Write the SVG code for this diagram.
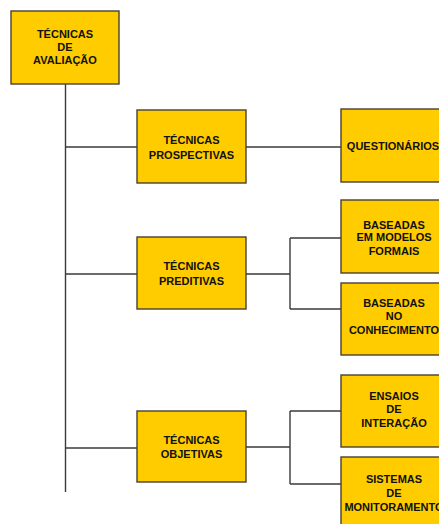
<svg xmlns="http://www.w3.org/2000/svg" width="439" height="524" viewBox="0 0 439 524">
<style>
.box{fill:#FFCC00;stroke:#4a4030;stroke-width:1.4}
.t{font-family:"Liberation Sans",Arial,sans-serif;font-weight:bold;font-size:11px;fill:#111;text-anchor:middle}
.c{fill:none;stroke:#3a3a3a;stroke-width:1.4}
</style>
<rect width="439" height="524" fill="#fff"/>
<g id="connectors">
<path class="c" d="M65.5 84V492"/>
<path class="c" d="M65.5 147H137"/>
<path class="c" d="M65.5 274H137"/>
<path class="c" d="M65.5 448H137"/>
<path class="c" d="M246 147H341"/>
<path class="c" d="M246 274H290M290 238V309M290 238H341M290 309H341"/>
<path class="c" d="M246 447H290M290 411V484M290 411H341M290 484H341"/>
</g>
<g id="root">
<rect class="box" x="11" y="11" width="108" height="73"/>
<text class="t" x="65" y="37.5">TÉCNICAS</text>
<text class="t" x="65" y="50.5">DE</text>
<text class="t" x="65" y="63.5">AVALIAÇÃO</text>
</g>
<g id="prospectivas">
<rect class="box" x="137" y="110" width="109" height="73"/>
<text class="t" x="191.5" y="143.5">TÉCNICAS</text>
<text class="t" x="191.5" y="158.5">PROSPECTIVAS</text>
</g>
<g id="preditivas">
<rect class="box" x="137" y="237" width="109" height="72"/>
<text class="t" x="191.5" y="270">TÉCNICAS</text>
<text class="t" x="191.5" y="285">PREDITIVAS</text>
</g>
<g id="objetivas">
<rect class="box" x="137" y="411" width="109" height="71"/>
<text class="t" x="191.5" y="443.5">TÉCNICAS</text>
<text class="t" x="191.5" y="457.5">OBJETIVAS</text>
</g>
<g id="questionarios">
<rect class="box" x="341" y="109" width="108" height="73"/>
<text class="t" x="393" y="150">QUESTIONÁRIOS</text>
</g>
<g id="modelos">
<rect class="box" x="341" y="200" width="108" height="73"/>
<text class="t" x="394" y="228.5">BASEADAS</text>
<text class="t" x="394" y="241">EM MODELOS</text>
<text class="t" x="394" y="254.5">FORMAIS</text>
</g>
<g id="conhecimento">
<rect class="box" x="341" y="283" width="108" height="72"/>
<text class="t" x="394" y="306.5">BASEADAS</text>
<text class="t" x="394" y="320">NO</text>
<text class="t" x="394" y="334">CONHECIMENTO</text>
</g>
<g id="ensaios">
<rect class="box" x="341" y="375" width="108" height="72"/>
<text class="t" x="394" y="399.5">ENSAIOS</text>
<text class="t" x="394" y="413">DE</text>
<text class="t" x="394" y="426.5">INTERAÇÃO</text>
</g>
<g id="sistemas">
<rect class="box" x="341" y="457" width="108" height="73"/>
<text class="t" x="394" y="482.5">SISTEMAS</text>
<text class="t" x="394" y="496.5">DE</text>
<text class="t" x="394" y="510.5">MONITORAMENTO</text>
</g>
</svg>
